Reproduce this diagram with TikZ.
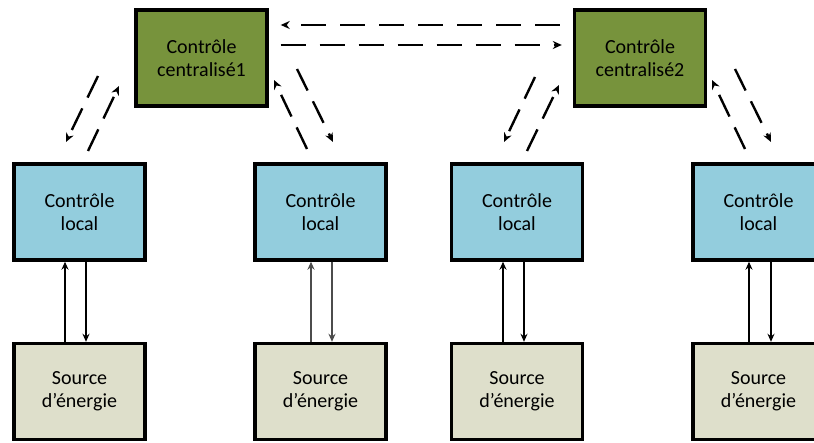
\documentclass[tikz,border=0pt]{standalone}
\usepackage{fontspec}
\setmainfont{Carlito}
\usetikzlibrary{arrows.meta}
\definecolor{cgreen}{HTML}{77933C}
\definecolor{cblue}{HTML}{93CDDD}
\definecolor{csrc}{HTML}{DEDFCB}
\tikzset{
  boxbase/.style={draw=black, line width=3.4pt, minimum width=131pt, minimum height=96pt,
    align=center, inner sep=0pt, font=\fontsize{20}{23}\selectfont},
  central/.style={boxbase, fill=cgreen},
  localbox/.style={boxbase, fill=cblue},
  srcbox/.style={boxbase, fill=csrc},
  solidarrow/.style={line width=2.4pt, -{Stealth[length=8pt,width=7pt]}},
  dasharrow/.style={line width=2.6pt, dash pattern=on 25pt off 14pt, -{Stealth[length=9pt,width=8pt]}},
  diagarrow/.style={line width=2.4pt, dash pattern=on 24pt off 12pt, -{Stealth[length=9pt,width=8pt]}}
}
\begin{document}
\begin{tikzpicture}[x=1pt,y=-1pt]
\useasboundingbox (0,0) rectangle (814,443);
\fill[white] (0,0) rectangle (814,443);
\begin{scope}
\clip (0,0) rectangle (814,443);
% central controllers
\node[central] (C1) at (201.5,58) {Contrôle\\centralisé1};
\node[central] (C2) at (640,58) {Contrôle\\centralisé2};
% local controllers
\node[localbox] (L1) at (79.5,212) {Contrôle\\local};
\node[localbox] (L2) at (320.5,212) {Contrôle\\local};
\node[localbox] (L3) at (517,212) {Contrôle\\local};
\node[localbox] (L4) at (758.5,212) {Contrôle\\local};
% sources
\node[srcbox] (S1) at (79.5,391.5) {Source\\d’énergie};
\node[srcbox] (S2) at (320.5,391.5) {Source\\d’énergie};
\node[srcbox] (S3) at (517,391.5) {Source\\d’énergie};
\node[srcbox] (S4) at (758.5,391.5) {Source\\d’énergie};
\end{scope}
% solid arrows local <-> source
\draw[solidarrow] ([xshift=-14.5pt]S1.north) -- ([xshift=-14.5pt]L1.south);
\draw[solidarrow] ([xshift=6.5pt]L1.south) -- ([xshift=6.5pt]S1.north);
\draw[solidarrow, draw=black!70] ([xshift=-9.5pt]S2.north) -- ([xshift=-9.5pt]L2.south);
\draw[solidarrow, draw=black!70] ([xshift=11.5pt]L2.south) -- ([xshift=11.5pt]S2.north);
\draw[solidarrow] ([xshift=-14pt]S3.north) -- ([xshift=-14pt]L3.south);
\draw[solidarrow] ([xshift=7pt]L3.south) -- ([xshift=7pt]S3.north);
\draw[solidarrow] ([xshift=-9.5pt]S4.north) -- ([xshift=-9.5pt]L4.south);
\draw[solidarrow] ([xshift=12.5pt]L4.south) -- ([xshift=12.5pt]S4.north);
% horizontal dashed arrows between central controllers
\draw[dasharrow, shorten <=13pt, shorten >=12pt] ([yshift=33pt]C2.west) -- ([yshift=33pt]C1.east);
\draw[dasharrow, shorten <=12pt, shorten >=11pt] ([yshift=13pt]C1.east) -- ([yshift=13pt]C2.west);
% diagonal dashed arrows (floating ends)
\coordinate (a1) at (98,76);   \coordinate (b1) at (66,142);
\coordinate (a2) at (88,151);  \coordinate (b2) at (119,86);
\coordinate (a3) at (307,149); \coordinate (b3) at (274,80);
\coordinate (a4) at (297,69);  \coordinate (b4) at (333,142);
\coordinate (a5) at (535,77);  \coordinate (b5) at (504,142);
\coordinate (a6) at (527,151); \coordinate (b6) at (559,85);
\coordinate (a7) at (745,149); \coordinate (b7) at (712,80);
\coordinate (a8) at (735,69);  \coordinate (b8) at (771,142);
\draw[diagarrow] (a1) -- (b1);
\draw[diagarrow] (a2) -- (b2);
\draw[diagarrow] (a3) -- (b3);
\draw[diagarrow] (a4) -- (b4);
\draw[diagarrow] (a5) -- (b5);
\draw[diagarrow] (a6) -- (b6);
\draw[diagarrow] (a7) -- (b7);
\draw[diagarrow] (a8) -- (b8);
\end{tikzpicture}
\end{document}
